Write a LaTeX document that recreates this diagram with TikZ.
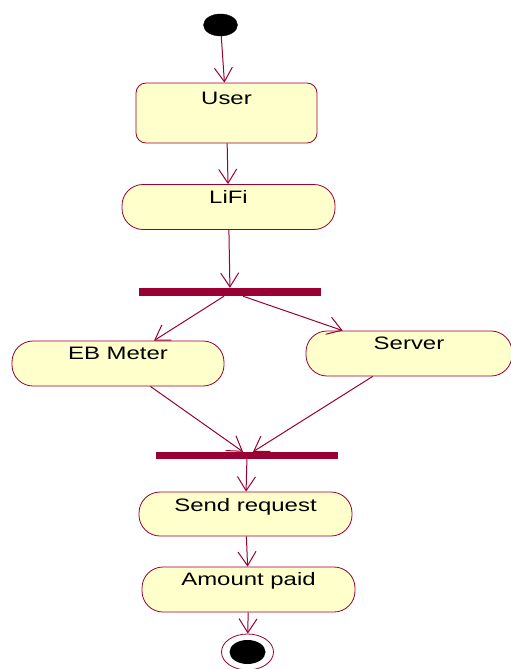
\documentclass[tikz,border=0pt]{standalone}
\usepackage{fontspec}
\newfontfamily\umlfont[FakeStretch=1.33]{Liberation Sans}
\usetikzlibrary{arrows.meta,shapes.geometric}
\definecolor{umlred}{HTML}{990033}
\definecolor{umlfill}{HTML}{FFFFCC}
\tikzset{
	activity/.style={rectangle, rounded corners=21pt, draw=umlred, fill=umlfill, line width=0.8pt,
		inner xsep=0pt, inner ysep=0pt, minimum width=213pt, text height=19pt, text depth=26pt,
		font=\umlfont\fontsize{18}{20}\selectfont},
	bar/.style={rectangle, fill=umlred, draw=none, inner sep=0pt, minimum width=182pt, minimum height=8pt},
	flow/.style={draw=umlred, line width=1pt, -{Straight Barb[length=14pt,width=18pt,line width=1pt]}}
}

\begin{document}
\begin{tikzpicture}[x=1pt, y=-1pt]
		%%%%% START %%%%%
		\useasboundingbox (0, 0) rectangle (511, 669);
		
		\node[ellipse, fill=black, draw=black, minimum width=34pt, minimum height=22pt, inner sep=0pt] (start) at (220.5, 25) {};
		
		\node[rectangle, rounded corners=10pt, draw=umlred, fill=umlfill, line width=0.8pt, inner xsep=0pt, inner ysep=0pt,
			minimum width=181pt, text height=21pt, text depth=39pt, font=\umlfont\fontsize{18}{20}\selectfont] (user) at (226.5, 113) {User};
		\node[activity] (lifi) at (228.5, 207) {LiFi};
		
		\node[bar] (fork) at (230, 292) {};
		
		\node[activity, minimum width=212pt, text height=18pt, text depth=27pt] (ebmeter) at (118, 363.5) {EB Meter};
		\node[activity, minimum width=206pt, text height=18pt, text depth=27pt] (server) at (409, 353.5) {Server};
		
		\node[bar, minimum height=7pt] (join) at (247, 455.5) {};
		
		\node[activity, text depth=25pt] (send) at (245.5, 514) {Send request};
		\node[activity, text height=18pt, text depth=27pt] (paid) at (248.5, 589.5) {Amount paid};
		
		\node[ellipse, draw=umlred, line width=0.8pt, fill=white, minimum width=52pt, minimum height=36pt, inner sep=0pt] (finish) at (247.5, 652) {};
		\node[ellipse, fill=black, minimum width=36pt, minimum height=24pt, inner sep=0pt] (finishdot) at (finish) {};
		
		\draw[flow] (start) -- (user);
		\draw[flow] (user) -- (lifi);
		\draw[flow] (lifi) -- (fork);
		\draw[flow] ([xshift=-6pt]fork.south) -- (ebmeter);
		\draw[flow] ([xshift=13pt]fork.south) -- (server);
		\draw[flow] (ebmeter) -- ([xshift=-4pt]join.north);
		\draw[flow] (server) -- ([xshift=6pt]join.north);
		\draw[flow] (join) -- (send);
		\draw[flow] (send) -- (paid);
		\draw[flow] (paid) -- (finish);
		
		%%%%% END %%%%%
	\end{tikzpicture}
\end{document}
